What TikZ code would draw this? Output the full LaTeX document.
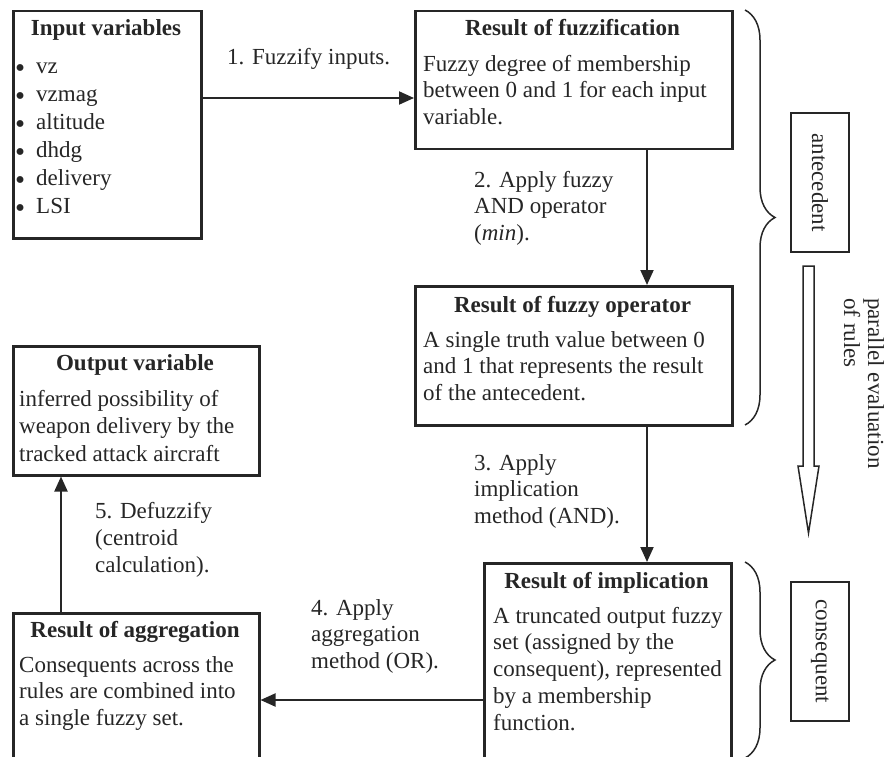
\documentclass[tikz,border=0pt]{standalone}
\usepackage{fontspec}
\setmainfont{Liberation Serif}
\usetikzlibrary{arrows.meta,decorations.pathreplacing}
\definecolor{ink}{HTML}{262626}
\newcommand{\blt}{\makebox[21pt][l]{\raisebox{-4pt}{\scalebox{1.25}{\textbullet}}}}
\begin{document}
\begin{tikzpicture}[x=1pt,y=1pt, color=ink,
  box/.style={draw=ink, line width=2.5pt, rectangle, inner sep=0pt, anchor=north west},
  body/.style={inner sep=0pt, anchor=north west, align=left, text=ink, font=\fontsize{23}{#1}\selectfont},
  body/.default=27,
  ttl/.style={inner sep=0pt, anchor=base, text=ink, font=\fontsize{23}{27}\selectfont\bfseries},
  arr/.style={draw=ink, line width=2pt, -{Triangle[length=15pt,width=13pt]}},
  brc/.style={draw=ink, decorate, decoration={brace, amplitude=30pt}, line width=1.5pt},
  vbox/.style={draw=ink, line width=2.5pt, rectangle, inner sep=0pt, rotate=-90, anchor=center,
    minimum width=139pt, minimum height=58pt, text=ink, font=\fontsize{23}{27}\selectfont}
]
\useasboundingbox (0,0) rectangle (886,-757);
\clip (0,0) rectangle (886,-757);

% boxes
\node[box, minimum width=188pt, minimum height=227pt] (inp) at (12,-10) {};
\node[box, minimum width=317pt, minimum height=138pt] (fuzz) at (414,-10) {};
\node[box, minimum width=317pt, minimum height=139pt] (oper) at (414,-285) {};
\node[box, minimum width=247pt, minimum height=215pt] (impl) at (483,-562) {};
\node[box, minimum width=246pt, minimum height=129pt] (outv) at (12,-345) {};
\node[box, minimum width=246pt, minimum height=165pt] (aggr) at (12,-612) {};
\node[vbox] (ante) at (820,-182.5) {antecedent};
\node[vbox] (cons) at (820,-651.5) {consequent};

% titles
\node[ttl] (tinp) at (106,-36) {Input variables};
\node[ttl] (tfuzz) at (572.5,-36) {Result of fuzzification};
\node[ttl] (toper) at (572.5,-312) {Result of fuzzy operator};
\node[ttl] (timpl) at (606.5,-588) {Result of implication};
\node[ttl] (toutv) at (135,-370) {Output variable};
\node[ttl] (taggr) at (135,-637) {Result of aggregation};

% bodies
\node[body=28] (binp) at (15,-53.4) {\strut\blt vz\\
  \blt vzmag\\
  \blt altitude\\
  \blt dhdg\\
  \blt delivery\\
  \blt LSI};
\node[body=26.5] (bfuzz) at (423,-52.45) {\strut Fuzzy degree of membership\\between 0 and 1 for each input\\variable.};
\node[body=26.5] (boper) at (423,-328.45) {\strut A single truth value between 0\\and 1 that represents the result\\of the antecedent.};
\node[body=26.75] (bimpl) at (493,-604.3) {\strut A truncated output fuzzy\\set (assigned by the\\consequent), represented\\by a membership\\function.};
\node[body=27.5] (boutv) at (19,-386.75) {\strut inferred possibility of\\weapon delivery by the\\tracked attack aircraft};
\node[body=26.5] (baggr) at (19,-653.45) {\strut Consequents across the\\rules are combined into\\a single fuzzy set.};

% step labels
\node[inner sep=0pt, anchor=base west, text=ink, font=\fontsize{23}{27}\selectfont] (l1) at (227,-65) {1. Fuzzify inputs.};
\node[body=26.5] (l2) at (474,-168.45) {\strut 2. Apply fuzzy\\AND operator\\(\textit{min}).};
\node[body=26.5] (l3) at (474,-451.45) {\strut 3. Apply\\implication\\method (AND).};
\node[body=26.5] (l4) at (311,-596.45) {\strut 4. Apply\\aggregation\\method (OR).};
\node[body=27] (l5) at (95,-499.1) {\strut 5. Defuzzify\\(centroid\\calculation).};

% connectors
\coordinate (ya) at (0,-98);
\coordinate (xa) at (647,0);
\coordinate (yb) at (0,-700);
\coordinate (xb) at (61,0);
\draw[arr] (inp.east |- ya) -- (fuzz.west |- ya);
\draw[arr] (fuzz.south -| xa) -- (oper.north -| xa);
\draw[arr] (oper.south -| xa) -- (impl.north -| xa);
\draw[arr] (impl.west |- yb) -- (aggr.east |- yb);
\draw[arr] (aggr.north -| xb) -- (outv.south -| xb);

% braces
\draw[brc] (745,-10) -- (745,-425);
\draw[brc] (745,-562) -- (745,-758);

% hollow arrow
\draw[draw=ink, line width=1.5pt, line join=miter] (803,-266) -- (803,-466) -- (798,-466) -- (808.5,-533) -- (819,-466) -- (814,-466) -- (814,-266) -- cycle;

% parallel evaluation label
\node[inner sep=0pt, rotate=-90, anchor=north west, align=left, text=ink, font=\fontsize{23}{24}\selectfont] (par) at (885,-298) {\strut parallel evaluation\\of rules};
\end{tikzpicture}
\end{document}
